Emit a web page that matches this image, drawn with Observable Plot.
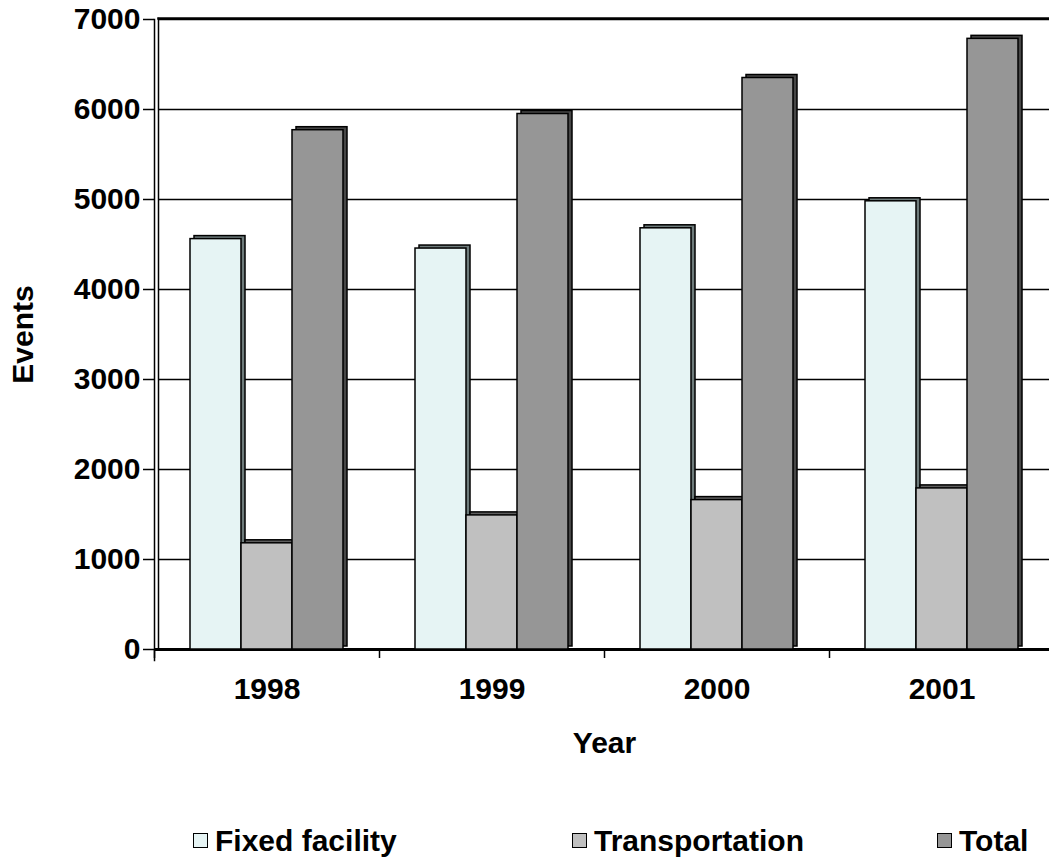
<!DOCTYPE html>
<html>
<head>
<meta charset="utf-8">
<script src="https://cdn.jsdelivr.net/npm/d3@7"></script>
<script src="https://cdn.jsdelivr.net/npm/@observablehq/plot@0.6"></script>
<style>
  html, body { margin: 0; padding: 0; background: #fff; }
  #wrap { width: 1049px; position: relative; font-family: "Liberation Sans", Arial, sans-serif; font-weight: bold; }
  #legend { position: relative; height: 59px; width: 1049px; }
  .item { position: absolute; top: 11px; display: flex; align-items: center; font-size: 30px; height: 59px; }
  .sw { width: 13px; height: 13px; border: 1.5px solid #000; margin-right: 7px; }
</style>
</head>
<body>
<div id="wrap"><div id="chart"></div><div id="legend"></div></div>
<script>
const years = ["1998", "1999", "2000", "2001"];
const seriesNames = ["Fixed facility", "Transportation", "Total"];
const fixedFacility = [4560, 4455, 4680, 4980];
const transportation = [1180, 1490, 1660, 1790];
const total = [5770, 5950, 6350, 6785];
const yTicks = [0, 1000, 2000, 3000, 4000, 5000, 6000, 7000];
const fills = ["#E6F4F4", "#C0C0C0", "#969696"];
const sideFills = ["#6E7B7B", "#5E5E5E", "#474747"];

const seriesValues = [fixedFacility, transportation, total];
const data = years.flatMap((y, i) => seriesNames.map((s, k) => ({year: y, series: s, value: seriesValues[k][i]})));

const W = 1049, H = 800;
const left = 154, right = 1054;
const bw = (right - left) / years.length;   // band width
const barW = 51;
const outer = (bw - barW * seriesNames.length) / 2;

const barMarks = [];
seriesNames.forEach((s, k) => {
  const rows = data.filter(d => d.series === s);
  const il = outer + k * barW;
  const ir = bw - outer - (k + 1) * barW;
  barMarks.push(Plot.barY(rows, {x: "year", y: "value", insetLeft: il, insetRight: ir, dx: 4, dy: -3, fill: sideFills[k], stroke: "#000", strokeWidth: 1.5}));
  barMarks.push(Plot.barY(rows, {x: "year", y: "value", insetLeft: il, insetRight: ir, fill: fills[k], stroke: "#000", strokeWidth: 1.5}));
});

const chart = Plot.plot({
  width: W,
  height: H,
  marginLeft: left,
  marginRight: W - right,
  marginTop: 19,
  marginBottom: H - 649,
  style: {fontFamily: "Liberation Sans, Arial, sans-serif", fontWeight: "bold", fontSize: "30px", color: "#000", background: "#fff", overflow: "visible"},
  x: {domain: years, padding: 0, axis: null},
  y: {domain: [0, 7000], axis: null},
  marks: [
    Plot.gridY(yTicks, {insetLeft: 4, stroke: "#000", strokeOpacity: 1, strokeWidth: 1.3}),
    Plot.frame({anchor: "top", insetLeft: 4, insetTop: -1, stroke: "#000", strokeWidth: 2.5}),
    Plot.frame({anchor: "left", insetLeft: 4, insetTop: -1, insetBottom: 2, stroke: "#000", strokeWidth: 1.5}),
    Plot.frame({anchor: "left", insetBottom: -11, stroke: "#000", strokeWidth: 1.5}),
    Plot.ruleY([0], {stroke: "#000", strokeWidth: 3}),
    ...barMarks,
    Plot.axisY({ticks: yTicks, tickSize: 11, tickPadding: 3, tickFormat: d => String(d), label: "Events", labelAnchor: "center", labelOffset: 143, labelArrow: "none", stroke: "#000", strokeWidth: 1.5}),
    Plot.axisX({tickSize: 0, tickPadding: 28, label: "Year", labelAnchor: "center", labelOffset: 103, labelArrow: "none"}),
    Plot.axisX({tickSize: 9, tickFormat: () => "", dx: -bw / 2, label: null, stroke: "#000", strokeWidth: 1.5})
  ]
});
document.getElementById("chart").appendChild(chart);

const legend = document.getElementById("legend");
const legendLeft = [193, 572, 937];
seriesNames.forEach((s, k) => {
  const it = document.createElement("div");
  it.className = "item";
  it.style.left = legendLeft[k] + "px";
  it.innerHTML = `<span class="sw" style="background:${fills[k]}"></span><span>${s}</span>`;
  legend.appendChild(it);
});
</script>
</body>
</html>
